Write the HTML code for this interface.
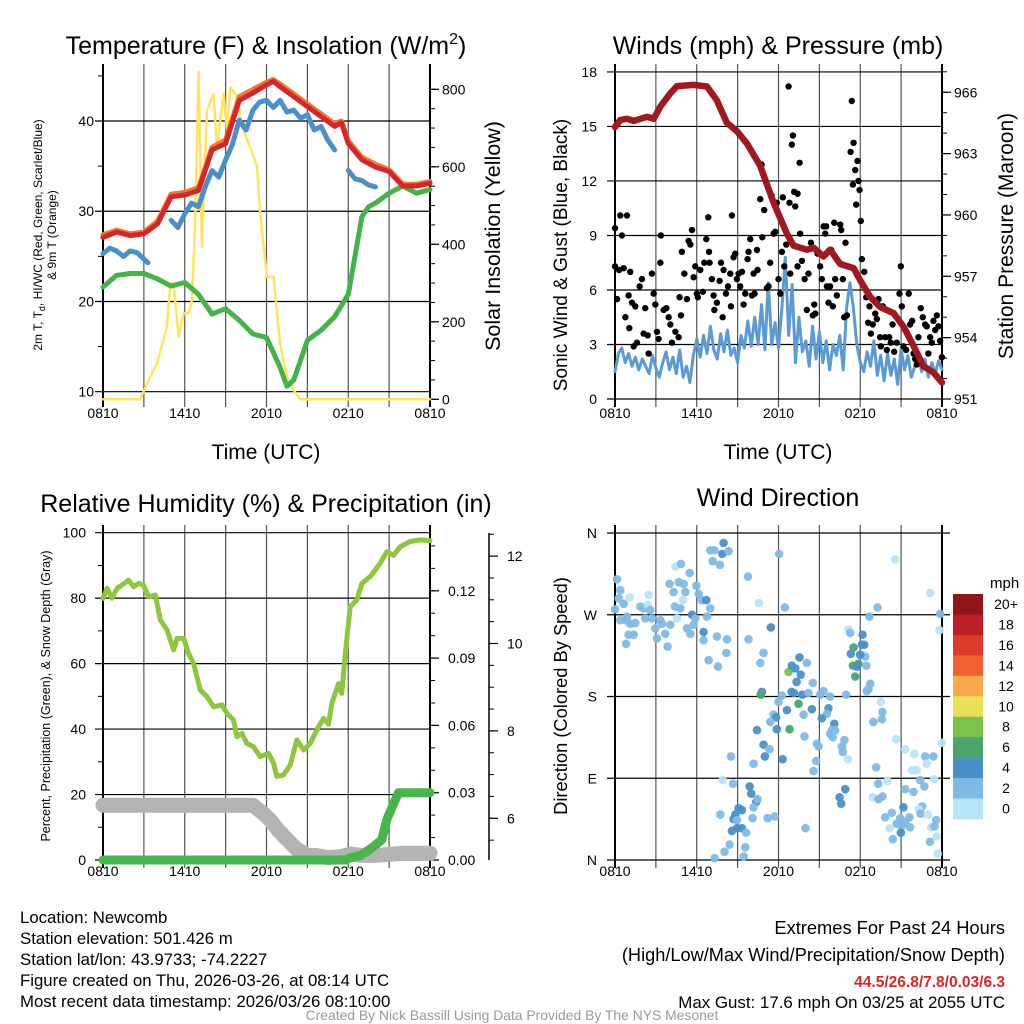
<!DOCTYPE html>
<html><head><meta charset="utf-8"><style>
html,body{margin:0;padding:0;background:#fff;}
svg{display:block;font-family:"Liberation Sans",sans-serif;}
</style></head><body>
<svg id="fig" width="1024" height="1024" viewBox="0 0 1024 1024" xmlns="http://www.w3.org/2000/svg">
<rect width="1024" height="1024" fill="#fff"/>
<g id="layer"></g>
<!-- titles -->
<text x="266" y="54" font-size="25" text-anchor="middle">Temperature (F) &amp; Insolation (W/m<tspan font-size="16" dy="-10">2</tspan><tspan dy="10">)</tspan></text>
<text x="778" y="54" font-size="25" text-anchor="middle">Winds (mph) &amp; Pressure (mb)</text>
<text x="266" y="512" font-size="25" text-anchor="middle">Relative Humidity (%) &amp; Precipitation (in)</text>
<text x="778" y="506" font-size="25" text-anchor="middle">Wind Direction</text>
<!-- axis titles -->
<text x="266" y="459" font-size="21" text-anchor="middle">Time (UTC)</text>
<text x="778" y="459" font-size="21" text-anchor="middle">Time (UTC)</text>
<text transform="translate(42,235) rotate(-90)" font-size="12" text-anchor="middle">2m T, T<tspan font-size="9" dy="3">d</tspan><tspan dy="-3">, HI/WC (Red, Green, Scarlet/Blue)</tspan></text>
<text transform="translate(56,235) rotate(-90)" font-size="12" text-anchor="middle">&amp; 9m T (Orange)</text>
<text transform="translate(500,236) rotate(-90)" font-size="21.5" text-anchor="middle">Solar Insolation (Yellow)</text>
<text transform="translate(567,255) rotate(-90)" font-size="19" text-anchor="middle">Sonic Wind &amp; Gust (Blue, Black)</text>
<text transform="translate(1013,236) rotate(-90)" font-size="21" text-anchor="middle">Station Pressure (Maroon)</text>
<text transform="translate(50,696) rotate(-90)" font-size="12.5" text-anchor="middle">Percent, Precipitation (Green), &amp; Snow Depth (Gray)</text>
<text transform="translate(567,696) rotate(-90)" font-size="18.3" text-anchor="middle">Direction (Colored By Speed)</text>
<text x="990" y="588" font-size="15">mph</text>
<!-- footer -->
<g font-size="16.8">
<text x="20" y="923">Location: Newcomb</text>
<text x="20" y="944">Station elevation: 501.426 m</text>
<text x="20" y="965">Station lat/lon: 43.9733; -74.2227</text>
<text x="20" y="986">Figure created on Thu, 2026-03-26, at 08:14 UTC</text>
<text x="20" y="1007">Most recent data timestamp: 2026/03/26 08:10:00</text>
</g>
<g text-anchor="end">
<text x="1005" y="934" font-size="18.3">Extremes For Past 24 Hours</text>
<text x="1005" y="961" font-size="18.2">(High/Low/Max Wind/Precipitation/Snow Depth)</text>
<text x="1005" y="987" font-size="15.5" fill="#d7262b" font-weight="bold">44.5/26.8/7.8/0.03/6.3</text>
<text x="1005" y="1008" font-size="16.9">Max Gust: 17.6 mph On 03/25 at 2055 UTC</text>
</g>
<text x="512" y="1020" font-size="13.9" fill="#999" text-anchor="middle">Created By Nick Bassill Using Data Provided By The NYS Mesonet</text>
</svg>
<script>
// ---------- data ----------
const timeTicks = ["0810","1410","2010","0210","0810"];
const tHours = [0,1,2,3,4,5,6,7,7.5,8,9,10,11,12,12.5,13,14,15,16,17,17.5,18,19,20,21,22,23,24];
const tempRed = [27.1,27.7,27.3,27.5,28.6,31.6,31.8,32.3,34.5,36.8,37.5,42.3,43.1,44.0,44.4,43.8,42.7,41.6,40.5,39.4,39.8,37.5,35.7,34.9,34.4,32.8,32.8,33.1];
const temp9m = [27.4,27.9,27.5,27.7,28.9,31.9,32.1,32.6,34.8,37.1,37.9,42.7,43.5,44.3,44.6,44.1,43.0,41.9,40.8,39.7,40.0,37.8,36.0,35.2,34.6,33.0,33.0,33.3];
const wcHours = [0,0.5,1,1.5,2,2.5,3,3.3,null,5,5.5,6,6.5,7,7.5,8,8.5,9,9.5,10,10.5,11,11.5,12,12.5,13,13.5,14,14.5,15,15.5,16,16.5,17,null,18,18.5,19,19.5,20];
const wcBlue = [25.3,25.9,25.6,25.0,25.6,25.4,24.7,24.3,null,29,28.2,29.7,30.9,30.5,32.7,34.5,33.8,35.7,37.4,40.1,39.0,41.2,42.1,42.3,41.5,42.3,41.0,41.2,40.3,40.7,39.0,39.4,37.9,36.8,null,34.5,33.6,33.4,32.9,32.7];
const dewHours = [0,1,2,3,4,5,6,7,8,9,10,11,12,13,13.5,14,15,16,17,18,19,19.5,20,21,22,23,24];
const dewGreen = [21.6,22.9,23.1,23.1,22.5,21.7,22.1,20.8,18.6,19.2,17.9,16.4,16.0,12.7,10.6,11.3,15.7,16.8,18.3,20.8,29.4,30.5,30.9,32.0,32.8,32.0,32.4];
const solHours = [0,2.74,3.35,3.96,4.69,4.94,5.18,5.55,5.92,6.28,6.53,6.77,7.02,7.26,7.63,8.12,8.36,8.85,9.1,9.34,9.83,10.2,10.81,11.3,11.54,12.03,12.52,13.0,13.5,13.99,14.47,24];
const solar = [0,0,50,93,187,299,299,161,222,222,256,462,845,393,746,789,651,789,694,806,780,703,650,600,480,316,316,144,58,24,0,0];
const tempTicks = [10,20,30,40];
const solarTicks = [0,200,400,600,800];

const presHours = [0,0.39,0.88,1.37,2.35,2.84,3.33,4.06,4.55,5.77,6.75,7.48,8.21,8.95,9.68,10.66,11.64,12.61,13.1,14.08,14.57,15.3,15.79,16.53,17.51,18.0,18.73,19.46,20.44,21.17,21.91,22.64,23.37,24];
const pressure = [964.3,964.65,964.7,964.6,964.8,964.7,965.3,965.95,966.3,966.36,966.28,965.6,964.5,964.1,963.5,962.4,960.6,959.1,958.5,958.3,958.4,957.97,958.3,957.6,957.4,956.8,956.0,955.5,955.2,954.55,953.6,952.6,952.3,951.8];
const windSpeed = [1.5,2.5,2.8,2.0,2.5,1.8,2.3,1.6,2.2,1.8,1.4,2.4,1.7,1.2,2.0,2.6,1.6,2.3,1.4,2.7,1.2,1.8,0.9,2.4,3.3,2.3,3.5,2.5,4.0,2.7,2.2,3.6,2.6,3.8,2.4,2.8,2.0,3.5,2.8,4.3,2.9,4.5,3.0,5.2,2.7,6.4,3.0,4.2,2.8,5.0,7.8,3.5,6.3,2.0,4.5,2.6,3.2,1.8,4.0,2.2,3.7,2.0,3.2,1.6,3.0,2.4,3.5,1.6,5.0,6.4,5.0,3.0,2.0,1.5,2.6,1.8,3.2,1.3,2.4,1.0,2.5,1.3,2.2,0.8,2.8,1.6,2.4,1.2,1.8,2.5,1.5,2.2,1.2,2.0,1.4,2.1,1.6];
const gustHours = [0,0,0.15,0.39,0.51,0.3,0.64,0.88,1.0,1.12,0.76,1.05,1.25,1.49,1.37,1.61,1.81,1.98,2.1,2.22,2.4,2.47,2.71,2.84,2.96,3.08,3.37,3.33,3.2,3.57,3.77,3.94,4.06,4.18,4.43,4.67,4.74,4.84,4.91,5.09,5.28,5.4,5.53,5.65,5.77,5.89,6.01,6.08,6.26,6.45,6.55,6.7,6.85,6.9,6.94,7.11,7.24,7.29,7.48,7.68,7.78,7.9,7.97,8.14,8.29,8.46,8.51,8.58,8.7,8.83,8.95,9.07,9.19,9.32,9.44,9.56,9.73,9.8,9.93,10.05,10.17,10.24,10.42,10.46,10.66,10.76,10.81,10.95,11.15,11.27,11.39,11.49,11.64,11.76,11.88,12.0,12.13,12.25,12.32,12.42,12.57,12.74,12.81,12.86,12.98,13.06,13.15,13.23,13.4,13.55,13.59,13.4,13.72,13.92,14.08,14.2,14.38,14.52,14.62,14.7,14.87,15.06,15.18,15.31,15.43,15.5,15.55,15.67,15.79,15.87,15.99,16.09,16.16,16.28,16.53,16.6,16.72,16.82,16.92,17.02,17.29,17.38,17.46,17.51,17.63,17.7,17.8,17.87,17.95,18.04,18.12,18.29,18.44,18.58,18.68,18.78,18.92,19.1,19.22,19.34,19.46,19.51,19.66,19.83,19.95,20.12,20.24,20.37,20.49,20.68,20.88,20.98,21.05,21.17,21.37,21.56,21.66,21.81,21.91,22.03,22.15,22.27,22.44,22.59,22.76,22.88,23.0,23.13,23.25,23.37,23.5,23.62,23.74,23.86,23.99];
const gustSpeed = [9.4,7.3,5.5,10.1,9.0,7.1,7.2,10.1,5.7,7.0,4.5,3.9,5.3,5.1,2.9,3.1,6.2,6.6,3.6,5.0,3.5,2.5,6.9,5.8,5.2,3.7,9.0,7.5,3.3,4.9,5.0,4.5,4.1,3.1,3.7,3.4,5.6,4.6,8.1,6.9,5.5,8.7,8.5,9.3,6.7,7.3,5.8,5.6,7.1,5.9,7.5,8.8,10.0,8.1,7.5,6.6,5.7,4.9,5.3,6.5,7.5,4.5,7.1,5.8,6.2,6.9,5.1,10.1,7.8,8.0,6.6,6.9,6.2,7.0,5.2,5.8,7.7,8.1,8.8,5.7,6.9,5.8,8.2,7.1,11.0,12.9,8.9,10.4,6.1,6.2,7.5,11.2,9.1,9.2,10.8,6.6,5.8,8.1,11.1,7.3,8.5,17.2,10.8,6.9,14.0,14.5,11.4,10.6,11.3,13.0,9.1,7.3,7.6,6.6,4.9,6.9,8.6,4.6,5.2,4.7,8.0,7.3,6.6,9.5,9.1,9.5,6.2,5.3,6.2,8.2,5.1,9.7,6.6,5.7,9.6,9.3,6.6,4.5,8.6,4.6,13.6,16.4,11.8,14.1,12.6,10.7,13.1,12.0,11.5,9.8,7.7,7.0,5.6,4.2,5.1,3.6,4.1,4.7,4.4,5.5,3.4,2.9,5.1,3.4,2.7,3.4,3.1,4.1,2.6,3.1,5.8,7.3,5.1,2.9,2.7,5.8,4.1,4.3,2.5,2.2,1.9,3.4,5.0,4.5,4.1,4.0,2.5,3.4,3.1,4.3,3.8,4.6,4.0,3.2,2.3];
const windTicks = [0,3,6,9,12,15,18];
const presTicks = [951,954,957,960,963,966];

const rhHours = [0,0.29,0.66,1.03,1.39,1.88,2.25,2.62,2.98,3.35,3.84,4.21,4.7,5.18,5.43,5.92,6.28,6.65,7.14,7.63,8.12,8.73,9.1,9.58,9.83,10.2,10.56,11.05,11.54,12.15,12.52,12.76,13.25,13.74,14.23,14.72,15.21,15.82,16.19,16.55,16.8,17.29,17.53,17.78,18.14,18.63,19.0,19.61,20.34,20.83,21.32,21.81,22.54,23.28,24];
const rh = [79.9,83,80,83,84,85.5,83.5,84.5,84,80.4,81,73.3,70.3,64.2,67.7,67.7,63.1,60,51.9,49.9,46.8,47.4,44.8,42.8,37.7,38.7,35.6,34.6,31.6,32.6,29.5,25.5,26,29,36.7,33.6,35.6,40.7,43.3,41.5,47.9,53.9,50.9,63.1,77.4,79.4,84.5,86.6,90.6,94.2,93.1,95.7,97.3,97.8,97.6];
const precipHours = [0,17.8,18.14,18.9,19.4,19.85,20.46,20.83,21.32,21.69,24];
const precip = [0,0,0.001,0.002,0.004,0.006,0.009,0.018,0.025,0.03,0.03];
const snowHours = [0,11.0,11.8,12.3,12.8,13.4,14.2,15.0,15.6,16.5,17.4,18.2,19.0,20.0,22.0,24];
const snow = [6.3,6.3,6.1,5.95,5.75,5.55,5.3,5.15,5.15,5.1,5.12,5.18,5.15,5.15,5.2,5.2];
const rhTicks = [0,20,40,60,80,100];
const precipTicks = ["0.00","0.03","0.06","0.09","0.12"];
const snowTicks = [6,8,10,12];

const dirHours = [
0.15,0.39,0.27,0.64,0,1.08,0.39,0.76,0.88,1.12,
1.0,1.37,0.81,1.49,1.86,2.1,2.47,2.4,2.59,2.22,
2.71,2.96,3.08,3.33,3.45,3.69,3.86,4.06,4.3,4.43,
4.84,4.0,4.4,4.67,5.04,5.16,5.48,4.99,4.55,4.79,
5.28,5.53,5.65,5.89,5.77,5.97,6.14,6.38,6.7,6.5,
6.5,6.75,6.99,6.87,6.99,7.29,7.17,7.7,7.87,7.97,
8.34,7.48,8.22,8.17,7.56,9.76,10.56,12.05,12.47,11.44,
9.8,10.9,10.66,10.78,10.7,12.74,12.98,13.54,13.23,13.63,
14.08,13.33,12.96,13.13,13.74,14.2,14.52,12.0,12.25,12.62,
13.47,11.64,11.83,11.39,11.88,12.81,10.42,10.9,11.34,11.0,
12.3,13.91,13.84,14.45,15.06,15.31,15.67,15.79,15.55,15.18,
16.09,15.92,16.16,15.79,15.99,16.84,16.65,16.72,17.09,14.82,
14.94,14.77,14.57,16.97,10.17,8.51,17.14,17.26,17.51,17.31,
17.46,17.87,17.63,17.75,18.17,18.29,18.12,18.36,18.44,17.99,
18.73,18.6,18.48,19.27,18.68,18.97,19.63,19.59,19.51,19.17,
20.56,23.13,23.86,23.81,20.64,21.3,21.98,22.76,23.37,22.88,
21.81,22.13,22.4,22.71,23.42,24,19.32,20.0,18.92,19.63,
19.34,21.3,21.91,21.17,22.54,22.3,22.44,22.96,20.32,19.83,
20.93,21.3,21.61,20.68,21.05,21.66,20.98,20.15,23.2,23.45,
23.57,23.62,20.39,23.11,23.69,7.9,8.66,7.73,8.41,8.04,
7.31,9.07,9.32,8.83,8.7,8.95,8.58,8.95,9.32,9.63,
9.56,9.44,9.88,10.0,10.37,10.46,10.17,10.1,11.2,11.71,
13.98,16.48,16.9,16.6];
const dirDeg = [
309,297,288,282,276,289,264,264,268,260,
248,248,238,261,279,277,292,281,275,266,
266,255,244,264,260,249,235,259,295,323,
326,304,279,306,304,295,316,286,266,277,
255,249,270,266,259,302,293,286,286,251,
242,268,277,220,341,341,329,325,337,349,
340,246,243,228,213,312,283,337,278,256,
243,228,217,185,182,207,214,223,211,204,
217,196,185,184,182,184,195,174,181,165,
172,160,157,152,144,144,143,127,122,114,
111,136,160,166,182,186,167,180,161,156,
150,143,143,139,135,132,125,119,111,128,
125,109,98,182,106,114,254,250,234,227,
214,216,202,213,248,237,237,224,214,226,
194,188,186,278,268,152,163,155,174,102,
331,294,271,253,133,122,117,114,114,106,
99,99,88,81,89,129,84,87,69,70,
67,78,75,58,59,56,51,50,52,47,
46,42,47,40,37,36,30,35,36,37,
44,26,23,20,7,88,84,50,17,9,
2,57,55,50,45,44,32,35,35,30,
14,4,81,73,64,67,58,46,46,48,
35,69,78,62];
const dirSpeed = [
3,3,3,3,3,1,3,3,3,3,
3,3,3,3,3,3,1,1,3,3,
3,3,3,3,3,3,3,3,3,1,
3,3,3,3,3,3,3,1,1,3,
3,3,5,3,3,3,3,3,5,5,
3,3,3,3,3,3,3,3,5,5,
3,3,3,3,3,3,1,3,3,5,
3,3,3,5,7,9,5,5,5,5,
3,5,5,5,5,3,3,3,3,5,
7,3,5,3,5,7,5,5,3,5,
5,3,3,5,3,3,5,3,3,5,
5,3,3,3,3,3,3,3,1,3,
3,3,3,3,3,3,1,3,7,5,
7,7,7,5,5,5,5,3,3,5,
3,3,3,3,3,3,3,3,1,3,
1,1,3,1,1,1,1,3,3,1,
1,1,3,3,1,1,3,1,1,3,
3,3,3,5,3,1,3,1,3,3,
3,3,3,3,3,3,5,1,1,3,
3,1,3,3,1,1,3,3,3,3,
3,5,5,5,5,3,5,5,5,3,
3,3,5,5,5,3,3,3,3,3,
3,5,5,5];
const dirTicks = ["N","E","S","W","N"];
const cbLabels = ["20+","18","16","14","12","10","8","6","4","2","0"];
const cbColors = ["#8e1519","#bb1e24","#dd3a2c","#ef6230","#f6a84a","#e8e058","#7cc14c","#4aa56c","#4a90c8","#7fbbe6","#b9e4f8"];

// ---------- helpers ----------
const NS = "http://www.w3.org/2000/svg";
const root = document.getElementById('layer');
function mk(tag, attrs, parent){ const e=document.createElementNS(NS,tag); for(const k in attrs) e.setAttribute(k,attrs[k]); (parent||root).appendChild(e); return e; }
function pathFrom(xs, ys, fx, fy){ let d="", pen=false; for(let i=0;i<xs.length;i++){ if(xs[i]===null||ys[i]===null){pen=false;continue;} d+=(pen?"L":"M")+fx(xs[i]).toFixed(1)+","+fy(ys[i]).toFixed(1); pen=true;} return d; }

function timeAxis(x0,x1,y0,y1,labelY,key){
  const g=mk('g',{});
  
  
  for(let k=0;k<=8;k++){
    const x=x0+(x1-x0)*k/8;
    const l=mk('line',{x1:x,x2:x,y1:y0-8,y2:y1+8,stroke:(k==0||k==8)?'#000':'#555','stroke-width':(k==0||k==8)?2:1.2},g);
    
    
  }
  timeTicks.forEach((t,i)=>{
    const tx=mk('text',{x:x0+(x1-x0)*i/4,y:labelY,'font-size':14,'text-anchor':'middle'},g);
    tx.textContent=t;
    
    
  });
}
function hGrid(vals,fy,x0,x1,labels,lx,key,ext){
  vals.forEach((v,i)=>{
    const y=fy(v);
    const l=mk('line',{x1:x0-(ext||8),x2:x1+(ext||0),y1:y,y2:y,stroke:'#000','stroke-width':1.2});
    
    
    const t=mk('text',{x:lx,y:y+5,'font-size':14,'text-anchor':'end'});
    t.textContent=labels?labels[i]:v;
    
    
  });
}
function rAxis(x,y0,y1,vals,labels,fy,minorStep,minorFrom,minorTo,key,lx){
  const a=mk('line',{x1:x,x2:x,y1:y0,y2:y1,stroke:'#000','stroke-width':1.5});
  
  
  for(let v=minorFrom; v<=minorTo+1e-9; v+=minorStep){
    const y=fy(v); if(y<y0-0.5||y>y1+0.5) continue;
    const m=mk('line',{x1:x,x2:x+5,y1:y,y2:y,stroke:'#000','stroke-width':1});
    
    
  }
  vals.forEach((v,i)=>{
    const y=fy(v);
    const m=mk('line',{x1:x,x2:x+9,y1:y,y2:y,stroke:'#000','stroke-width':1.2});
    
    
    const t=mk('text',{x:lx,y:y+5,'font-size':14});
    t.textContent=labels?labels[i]:v;
    
    
  });
}
function line(d,color,w,name){ const p=mk('path',{d:d,fill:'none',stroke:color,'stroke-width':w,'stroke-linejoin':'round','stroke-linecap':'round'});   return p; }

// ---------- panel 1 ----------
{
  const X0=103,X1=430,Y0=72,Y1=399;
  const fx=h=>X0+h*(X1-X0)/24, fy=v=>391.7-(v-10)*9.023, fs=w=>399.3-w*0.3875;
  timeAxis(X0,X1,Y0,Y1,418,'temperature');
  hGrid(tempTicks,fy,X0,X1,null,94,'temperature');
  for(let v=15; v<=45; v+=10){ const m=mk('line',{x1:X0-5,x2:X0,y1:fy(v),y2:fy(v),stroke:'#000'});   }
  rAxis(X1,Y0,Y1,solarTicks,null,fs,50,0,850,'solar',442);
  line(pathFrom(solHours,solar,fx,fs),'#ffe45c',2.5,'solar-line');
  line(pathFrom(dewHours,dewGreen,fx,fy),'#43b34a',5,'dewpoint-line');
  line(pathFrom(tHours,temp9m,fx,fy),'#f47a30',5,'temp-9m-line');
  line(pathFrom(tHours,tempRed,fx,fy),'#d7262b',5,'temperature-line');
  line(pathFrom(wcHours,wcBlue,fx,fy),'#4a90c8',5,'windchill-line');
}
// ---------- panel 2 ----------
{
  const X0=615,X1=942,Y0=72,Y1=399;
  const fx=h=>X0+h*(X1-X0)/24, fy=v=>399-v*18.17, fp=p=>399-(p-951)*20.45;
  timeAxis(X0,X1,Y0,Y1,418,'winds');
  hGrid(windTicks,fy,X0,X1,null,597,'wind');
  rAxis(X1,Y0,Y1,presTicks,null,fp,1,951,967,'pressure',954);
  const wh=windSpeed.map((_,i)=>i*0.25);
  line(pathFrom(wh,windSpeed,fx,fy),'#5b9bd5',3,'wind-speed-line');
  gustHours.forEach((h,i)=>{
    const c=mk('circle',{cx:fx(h),cy:fy(gustSpeed[i]),r:3.2,fill:'#000'});
    
    
  });
  line(pathFrom(presHours,pressure,fx,fp),'#a0191e',6.5,'pressure-line');
}
// ---------- panel 3 ----------
{
  const X0=103,X1=430,Y0=533,Y1=860;
  const fx=h=>X0+h*(X1-X0)/24, fy=v=>860-v*3.273, fpr=v=>860-v/0.03*67.3, fsn=s=>818.3-(s-6)*43.7;
  timeAxis(X0,X1,Y0,Y1,876,'humidity');
  hGrid(rhTicks,fy,X0,X1,null,86,'humidity');
  for(let v=10; v<=90; v+=20){ const m=mk('line',{x1:X0-5,x2:X0,y1:fy(v),y2:fy(v),stroke:'#000'});   }
  rAxis(X1,Y0,Y1,precipTicks.map(Number),precipTicks,fpr,0.01,0,0.14,'precip',448);
  rAxis(489,Y0,Y1,snowTicks,null,fsn,0.5,5,12.5,'snow',507);
  line(pathFrom(snowHours,snow,fx,fsn),'#b3b3b3',15,'snow-depth-line');
  line(pathFrom(precipHours,precip,fx,fpr),'#45b649',9,'precipitation-line');
  line(pathFrom(rhHours,rh,fx,fy),'#8dc63f',5,'humidity-line');
}
// ---------- panel 4 ----------
{
  const X0=615,X1=942,Y0=533,Y1=860;
  const fx=h=>X0+h*(X1-X0)/24, fy=d=>860-d*(Y1-Y0)/360;
  timeAxis(X0,X1,Y0,Y1,876,'direction');
  dirTicks.forEach((t,i)=>{
    const y=fy(i*90);
    const l=mk('line',{x1:X0-8,x2:X1+8,y1:y,y2:y,stroke:'#000','stroke-width':1.2});
    
    
    const tx=mk('text',{x:597,y:y+5,'font-size':14,'text-anchor':'end'});
    tx.textContent=t;
    
    
  });
  const colorFor=s=>cbColors[10-Math.min(10,Math.floor(s/2))];
  dirHours.forEach((h,i)=>{
    const c=mk('circle',{cx:fx(h),cy:fy(dirDeg[i]),r:4.3,fill:colorFor(dirSpeed[i]),'fill-opacity':0.95});
    
    
  });
  cbColors.forEach((col,i)=>{
    const r=mk('rect',{x:953,y:594+i*20.45,width:30,height:20.9,fill:col});
    
    
    const t=mk('text',{x:1006,y:594+i*20.45+15,'font-size':14,'text-anchor':'middle'});
    t.textContent=cbLabels[i];
    
    
  });
}
</script>
</body></html>
